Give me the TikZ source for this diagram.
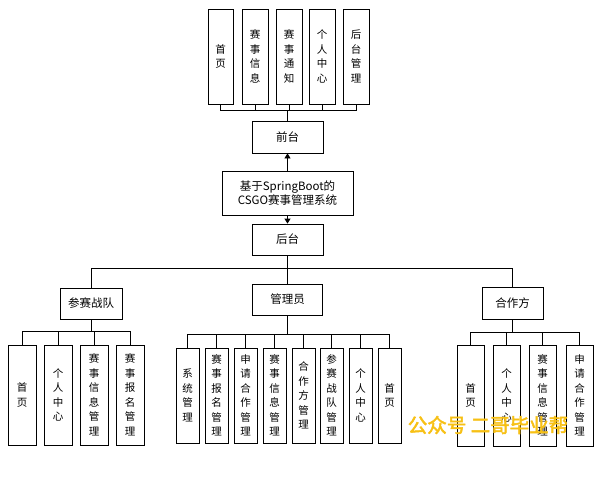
\documentclass[tikz,border=0pt]{standalone}
\usepackage{fontspec}
\setmainfont{Noto Sans CJK SC}
\newfontfamily\wmfont[FakeBold=2.5]{Noto Sans CJK SC}
\usetikzlibrary{arrows.meta}
\definecolor{wmcol}{RGB}{247,192,20}
\tikzset{
  box/.style={draw=black, line width=0.8pt, inner sep=0pt, align=center, fill=white},
  hbox/.style={box, font=\fontsize{11.5}{13.5}\selectfont},
  vbox/.style={box, font=\fontsize{10.5}{14.5}\selectfont},
  conn/.style={draw=black, line width=0.8pt},
  arr/.style={conn, -{Triangle[width=6pt,length=5pt]}}
}
\begin{document}
\begin{tikzpicture}[x=1pt,y=-1pt]
\useasboundingbox (0,0) rectangle (605,483);

% top row
\node[vbox, minimum width=25pt, minimum height=95pt] (t1) at (220.5,56.5) {首\\页};
\node[vbox, minimum width=26pt, minimum height=95pt] (t2) at (255,56.5) {赛\\事\\信\\息};
\node[vbox, minimum width=26pt, minimum height=95pt] (t3) at (289,56.5) {赛\\事\\通\\知};
\node[vbox, minimum width=26pt, minimum height=95pt] (t4) at (322,56.5) {个\\人\\中\\心};
\node[vbox, minimum width=26pt, minimum height=95pt] (t5) at (356,56.5) {后\\台\\管\\理};

\node[hbox, minimum width=71pt, minimum height=32pt] (front) at (287.5,137) {前台};
\node[hbox, minimum width=131pt, minimum height=44pt] (main) at (287.5,193) {基于SpringBoot的\\CSGO赛事管理系统};
\node[hbox, minimum width=71pt, minimum height=31pt] (back) at (287.5,239.5) {后台};

\coordinate (bT) at (287.5,110);
\foreach \n in {t1,t2,t3,t4,t5} \draw[conn] (\n.south) |- (bT);
\draw[conn] (bT) -- (front.north);
\draw[arr] (main.north) -- (front.south);
\draw[arr] (main.south) -- (back.north);

% second level
\node[hbox, minimum width=62pt, minimum height=31pt] (team) at (91,303.5) {参赛战队};
\node[hbox, minimum width=70pt, minimum height=31pt] (admin) at (287.5,299.5) {管理员};
\node[hbox, minimum width=61pt, minimum height=32pt] (partner) at (512.5,303) {合作方};

\coordinate (b2) at (287.5,268);
\draw[conn] (back.south) -- (admin.north);
\draw[conn] (team.north) |- (b2);
\draw[conn] (partner.north) |- (b2);

% team children
\node[vbox, minimum width=28pt, minimum height=100pt] (a1) at (22,395) {首\\页};
\node[vbox, minimum width=28pt, minimum height=100pt] (a2) at (58,395) {个\\人\\中\\心};
\node[vbox, minimum width=28pt, minimum height=100pt] (a3) at (94,395) {赛\\事\\信\\息\\管\\理};
\node[vbox, minimum width=28pt, minimum height=100pt] (a4) at (130,395) {赛\\事\\报\\名\\管\\理};
\coordinate (bA) at (91,331);
\foreach \n in {a1,a2,a3,a4} \draw[conn] (\n.north) |- (bA);
\draw[conn] (bA) -- (team.south);

% admin children
\node[vbox, minimum width=23pt, minimum height=95pt] (m1) at (187.5,395.5) {系\\统\\管\\理};
\node[vbox, minimum width=23pt, minimum height=95pt] (m2) at (216.5,395.5) {赛\\事\\报\\名\\管\\理};
\node[vbox, minimum width=23pt, minimum height=95pt] (m3) at (245.5,395.5) {申\\请\\合\\作\\管\\理};
\node[vbox, minimum width=23pt, minimum height=95pt] (m4) at (274.5,395.5) {赛\\事\\信\\息\\管\\理};
\node[vbox, minimum width=23pt, minimum height=95pt] (m5) at (303.5,395.5) {合\\作\\方\\管\\理};
\node[vbox, minimum width=23pt, minimum height=95pt] (m6) at (331.5,395.5) {参\\赛\\战\\队\\管\\理};
\node[vbox, minimum width=23pt, minimum height=95pt] (m7) at (360.5,395.5) {个\\人\\中\\心};
\node[vbox, minimum width=23pt, minimum height=95pt] (m8) at (389.5,395.5) {首\\页};
\coordinate (bM) at (287.5,334);
\foreach \n in {m1,m2,m3,m4,m5,m6,m7,m8} \draw[conn] (\n.north) |- (bM);
\draw[conn] (bM) -- (admin.south);

% partner children
\node[vbox, minimum width=27pt, minimum height=101pt] (p1) at (470.5,395.5) {首\\页};
\node[vbox, minimum width=27pt, minimum height=101pt] (p2) at (506.5,395.5) {个\\人\\中\\心};
\node[vbox, minimum width=27pt, minimum height=101pt] (p3) at (542.5,395.5) {赛\\事\\信\\息\\管\\理};
\node[vbox, minimum width=27pt, minimum height=101pt] (p4) at (579.5,395.5) {申\\请\\合\\作\\管\\理};
\coordinate (bP) at (512.5,332);
\foreach \n in {p1,p2,p3,p4} \draw[conn] (\n.north) |- (bP);
\draw[conn] (bP) -- (partner.south);

% watermark
\node[text=wmcol, font=\wmfont\fontsize{19.5}{21}\selectfont, inner sep=0pt] (wm) at (488,425) {公众号 二哥毕业帮};
\end{tikzpicture}
\end{document}
